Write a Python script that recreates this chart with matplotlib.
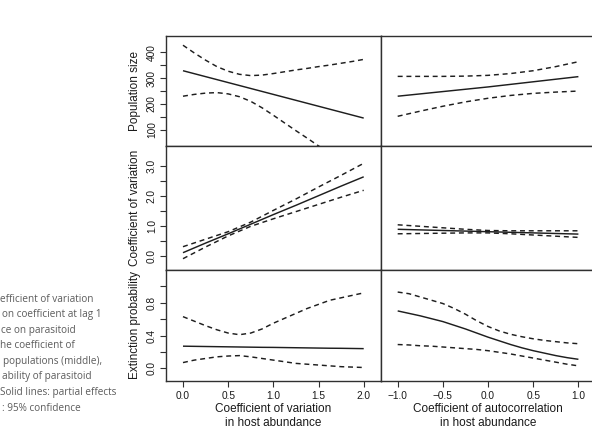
import matplotlib
matplotlib.use("Agg")
import matplotlib.pyplot as plt

# ---------------- data ----------------
cv_x9 = [0.0, 0.25, 0.5, 0.75, 1.0, 1.25, 1.5, 1.75, 2.0]
ac_x9 = [-1.0, -0.75, -0.5, -0.25, 0.0, 0.25, 0.5, 0.75, 1.0]
cv_x17 = [0.0, 0.125, 0.25, 0.375, 0.5, 0.625, 0.75, 0.875, 1.0,
          1.125, 1.25, 1.375, 1.5, 1.625, 1.75, 1.875, 2.0]
ac_x17 = [-1.0, -0.875, -0.75, -0.625, -0.5, -0.375, -0.25, -0.125, 0.0,
          0.125, 0.25, 0.375, 0.5, 0.625, 0.75, 0.875, 1.0]

# Population size
pop_cv_fit = [329, 317.5, 306, 294.5, 283, 271.5, 260, 248.5, 237,
              225.5, 214, 202.5, 191, 179.5, 168, 156.5, 145]
pop_cv_up = [428, 398, 370, 345, 327, 315, 310, 312, 318,
             325, 332, 338, 345, 351, 358, 365, 373]
pop_cv_lo = [230, 237, 242, 244, 239, 228, 210, 185, 156,
             126, 96, 67, 37, 8, -22, -52, -83]
pop_ac_fit = [230, 239, 248, 257, 266, 276, 286, 296, 306]
pop_ac_up = [307, 307, 307, 308, 311, 318, 329, 345, 364]
pop_ac_lo = [152, 172, 191, 208, 222, 233, 241, 246, 250]

# Coefficient of variation
cvp_cv_fit = [0.11, 0.43, 0.74, 1.06, 1.38, 1.69, 2.01, 2.33, 2.64]
cvp_cv_up = [0.31, 0.56, 0.81, 1.13, 1.52, 1.90, 2.30, 2.69, 3.09]
cvp_cv_lo = [-0.09, 0.30, 0.67, 0.99, 1.24, 1.48, 1.72, 1.96, 2.19]
cvp_ac_fit = [0.89, 0.87, 0.85, 0.83, 0.81, 0.79, 0.77, 0.75, 0.73]
cvp_ac_up = [1.04, 0.99, 0.94, 0.89, 0.85, 0.84, 0.84, 0.84, 0.84]
cvp_ac_lo = [0.74, 0.75, 0.76, 0.77, 0.77, 0.74, 0.70, 0.66, 0.62]

# Extinction probability
ext_cv_fit = [0.270, 0.268, 0.266, 0.264, 0.262, 0.260, 0.258, 0.256, 0.255,
              0.253, 0.251, 0.249, 0.247, 0.245, 0.244, 0.242, 0.240]
ext_cv_up = [0.63, 0.575, 0.52, 0.47, 0.43, 0.41, 0.43, 0.48, 0.55,
             0.61, 0.67, 0.73, 0.78, 0.83, 0.86, 0.89, 0.92]
ext_cv_lo = [0.07, 0.10, 0.12, 0.14, 0.15, 0.155, 0.14, 0.12, 0.10,
             0.08, 0.06, 0.05, 0.04, 0.03, 0.02, 0.015, 0.01]
ext_ac_fit = [0.70, 0.67, 0.64, 0.605, 0.57, 0.525, 0.48, 0.43, 0.38,
              0.335, 0.29, 0.25, 0.215, 0.185, 0.155, 0.13, 0.11]
ext_ac_up = [0.93, 0.91, 0.87, 0.83, 0.79, 0.73, 0.66, 0.58, 0.51,
             0.455, 0.415, 0.385, 0.36, 0.34, 0.325, 0.31, 0.30]
ext_ac_lo = [0.29, 0.285, 0.275, 0.27, 0.26, 0.25, 0.24, 0.23, 0.215,
             0.195, 0.175, 0.15, 0.125, 0.10, 0.075, 0.05, 0.03]

row_labels = ["Population size", "Coefficient of variation", "Extinction probability"]
x_labels = ["Coefficient of variation\nin host abundance",
            "Coefficient of autocorrelation\nin host abundance"]
cv_ticks = [0.0, 0.5, 1.0, 1.5, 2.0]
cv_ticklabels = ["0.0", "0.5", "1.0", "1.5", "2.0"]
ac_ticks = [-1.0, -0.5, 0.0, 0.5, 1.0]
ac_ticklabels = ["\u22121.0", "\u22120.5", "0.0", "0.5", "1.0"]
pop_ticks = [100, 150, 200, 250, 300, 350, 400]
pop_ticklabels = ["100", "", "200", "", "300", "", "400"]
cvp_ticks = [0.0, 0.5, 1.0, 1.5, 2.0, 2.5, 3.0]
cvp_ticklabels = ["0.0", "", "1.0", "", "2.0", "", "3.0"]
ext_ticks = [0.0, 0.2, 0.4, 0.6, 0.8, 1.0]
ext_ticklabels = ["0.0", "", "0.4", "", "0.8", ""]

# visible part of the (cropped) figure caption at the left edge
caption_lines = [
    "efficient of variation",
    "on coefficient at lag 1",
    "ce on parasitoid",
    "he coefficient of",
    "populations (middle),",
    "ability of parasitoid",
    "Solid lines: partial effects",
    ": 95% confidence",
]
caption_x = [0.5, 1.5, 1.0, 0.5, 3.0, 2.0, 0.5, 2.0]

# ---------------- layout ----------------
W, H = 592, 430
fig = plt.figure(figsize=(W / 100, H / 100), dpi=100)
FONT = "Liberation Sans"
plt.rcParams["font.family"] = [FONT, "DejaVu Sans"]

col_edges = [166, 380.7, 595.4]
row_edges = [35.7, 146, 270, 380.7]
xlims = [(-0.188, 2.188), (-1.188, 1.188)]
ylims = [(36.6, 465), (-0.467, 3.667), (-0.151, 1.199)]

data = [
    [(cv_x17, pop_cv_fit, pop_cv_up, pop_cv_lo), (ac_x9, pop_ac_fit, pop_ac_up, pop_ac_lo)],
    [(cv_x9, cvp_cv_fit, cvp_cv_up, cvp_cv_lo), (ac_x9, cvp_ac_fit, cvp_ac_up, cvp_ac_lo)],
    [(cv_x17, ext_cv_fit, ext_cv_up, ext_cv_lo), (ac_x17, ext_ac_fit, ext_ac_up, ext_ac_lo)],
]
yticks = [(pop_ticks, pop_ticklabels), (cvp_ticks, cvp_ticklabels), (ext_ticks, ext_ticklabels)]
xticks = [(cv_ticks, cv_ticklabels), (ac_ticks, ac_ticklabels)]

line_col = "#1e1e1e"
for r in range(3):
    for c in range(2):
        x0, x1 = col_edges[c], col_edges[c + 1]
        y0, y1 = row_edges[r], row_edges[r + 1]
        ax = fig.add_axes([x0 / W, 1 - y1 / H, (x1 - x0) / W, (y1 - y0) / H])
        xs, fit, up, lo = data[r][c]
        ax.plot(xs, fit, color=line_col, lw=1.05, solid_capstyle="butt",
                solid_joinstyle="round")
        for band in (up, lo):
            ax.plot(xs, band, color=line_col, lw=1.05, dashes=(3.4, 2.6),
                    dash_joinstyle="round")
        ax.set_xlim(*xlims[c])
        ax.set_ylim(*ylims[r])
        for s in ax.spines.values():
            s.set_color("#303030")
            s.set_linewidth(1.0)
        ax.tick_params(direction="out", length=4.6, width=0.8, color="#303030",
                       labelsize=7.3, labelcolor="#1a1a1a")
        if c == 0:
            ax.set_yticks(yticks[r][0])
            ax.set_yticklabels(yticks[r][1], rotation=90, va="center")
            ax.tick_params(axis="y", pad=2.0)
        else:
            ax.set_yticks([])
        if r == 2:
            ax.set_xticks(xticks[c][0])
            ax.set_xticklabels(xticks[c][1])
            ax.tick_params(axis="x", pad=3.0)
        else:
            ax.set_xticks([])
        if c == 0:
            fig.text(135 / W, 1 - ((y0 + y1) / 2) / H, row_labels[r], rotation=90,
                     ha="center", va="center", fontsize=8.5, color="#1a1a1a")
        if r == 2:
            fig.text(((x0 + x1) / 2) / W, 1 - 416 / H, x_labels[c], ha="center",
                     va="center", fontsize=8.5, color="#1a1a1a", linespacing=1.25)

for i, (txt, xl) in enumerate(zip(caption_lines, caption_x)):
    fig.text(xl / W, 1 - (299 + 15.6 * i) / H, txt, ha="left", va="center",
             fontsize=7.2, color="#5c5c5c", family=["Open Sans", "DejaVu Sans"])

fig.savefig("out.png", dpi=100)
